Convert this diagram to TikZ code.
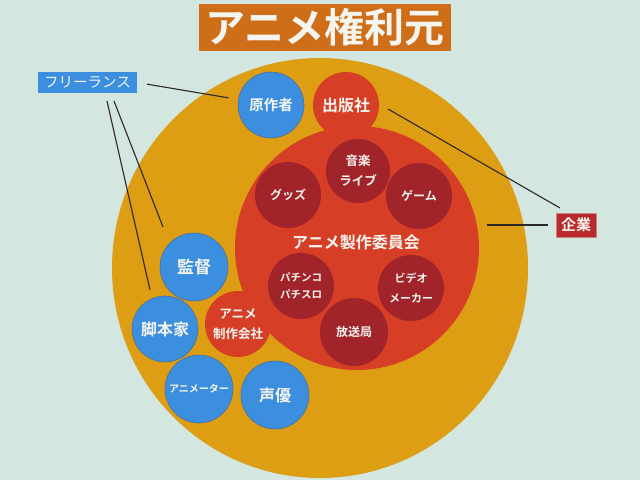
\documentclass[tikz,border=0pt]{standalone}
\usepackage{fontspec}
\setmainfont{Noto Sans CJK JP}[BoldFont={Noto Sans CJK JP Bold}]
\usetikzlibrary{shapes.geometric}
\definecolor{bgc}{RGB}{212,230,224}
\definecolor{goldc}{RGB}{222,158,20}
\definecolor{redc}{RGB}{214,62,38}
\definecolor{dredc}{RGB}{160,36,42}
\definecolor{bluec}{RGB}{60,142,222}
\definecolor{blueline}{RGB}{80,110,150}
\definecolor{orangec}{RGB}{206,110,25}
\definecolor{kredc}{RGB}{185,42,45}
\definecolor{linec}{RGB}{45,40,40}
\definecolor{txtc}{RGB}{245,245,240}
\newcommand{\fs}[2]{\fontsize{#1}{#2}\selectfont}
\tikzset{
  disc/.style={circle, inner sep=0pt, text=txtc, align=center, font=\bfseries\fs{14}{18}},
  bluedisc/.style={disc, fill=bluec, draw=blueline, line width=0.6pt},
  reddisc/.style={disc, fill=redc},
  darkdisc/.style={disc, fill=dredc, font=\bfseries\fs{12}{20}},
  conn/.style={draw=linec, line width=1.1pt},
  thickconn/.style={draw=linec, line width=2.2pt},
  labelbox/.style={inner sep=0pt, text=txtc}
}
\begin{document}
\begin{tikzpicture}[x=1pt,y=-1pt]
\useasboundingbox (0,0) rectangle (640,480);
\fill[bgc] (0,0) rectangle (640,480);
% title
\node[labelbox, fill=orangec, minimum width=252pt, minimum height=47pt, font=\bfseries\fs{40}{44}] (title) at (325,27) {アニメ権利元};
% big gold
\node[ellipse, fill=goldc, minimum width=416pt, minimum height=420pt, inner sep=0pt] (kenri) at (320,268) {};
% committee
\node[reddisc, minimum size=244pt] (iinkai) at (357,248) {};
\node[reddisc, minimum size=66pt, font=\bfseries\fs{16}{18}] (shuppan) at (346,105) {出版社};
\node[reddisc, minimum size=66pt, font=\bfseries\fs{12.5}{20}] (seisaku) at (238,324) {アニメ\\制作会社};
\node[text=txtc, font=\bfseries\fs{16}{18}, inner sep=0pt] (iinkailabel) at (356,242) {アニメ製作委員会};
% inner dark discs
\node[darkdisc, minimum size=64pt, font=\bfseries\fs{12.5}{20}] (ongaku) at (358,171) {音楽\\ライブ};
\node[darkdisc, minimum size=66pt] (goods) at (288,195) {グッズ};
\node[darkdisc, minimum size=66pt] (game) at (419,196) {ゲーム};
\node[darkdisc, minimum size=66pt, font=\bfseries\fs{10.5}{17}] (pachi) at (301,286) {パチンコ\\パチスロ};
\node[darkdisc, minimum size=66pt, font=\bfseries\fs{11}{20}] (video) at (411,288) {ビデオ\\メーカー};
\node[darkdisc, minimum size=68pt] (hoso) at (354,332) {放送局};
% blue discs
\node[bluedisc, minimum size=66pt, font=\bfseries\fs{14.5}{18}] (gensaku) at (271,105) {原作者};
\node[bluedisc, minimum size=68pt, font=\bfseries\fs{17}{18}] (kantoku) at (194,267) {監督};
\node[bluedisc, minimum size=66pt, font=\bfseries\fs{16}{18}] (kyakuhon) at (165,329) {脚本家};
\node[bluedisc, minimum size=68pt, font=\bfseries\fs{10}{12}] (animator) at (199,389) {アニメーター};
\node[bluedisc, minimum size=68pt, font=\bfseries\fs{16}{18}] (seiyu) at (275,395) {声優};
% label boxes
\node[labelbox, fill=bluec, minimum width=99pt, minimum height=21pt, font=\fs{14.5}{16}] (free) at (87.5,82.5) {フリーランス};
\node[labelbox, fill=kredc, draw={rgb,255:red,205;green,130;blue,130}, line width=0.5pt, minimum width=40pt, minimum height=24pt, font=\bfseries\fs{15}{16}] (kigyo) at (576,225) {企業};
% connector end points
\coordinate (fa) at (107,101);
\coordinate (fb) at (114,101);
\coordinate (ka) at (150,290);
\coordinate (kb) at (163,227);
\coordinate (sa) at (388,109);
\coordinate (kc) at (560,208);
\coordinate (ha) at (487,225);
% connectors
\draw[conn, shorten <=10pt, shorten >=43pt] (free.east) -- (gensaku.center);
\draw[conn] (fa) -- (ka);
\draw[conn] (fb) -- (kb);
\draw[conn] (sa) -- (kc);
\draw[thickconn, shorten >=8pt] (ha) -- (kigyo.west);
\end{tikzpicture}
\end{document}
